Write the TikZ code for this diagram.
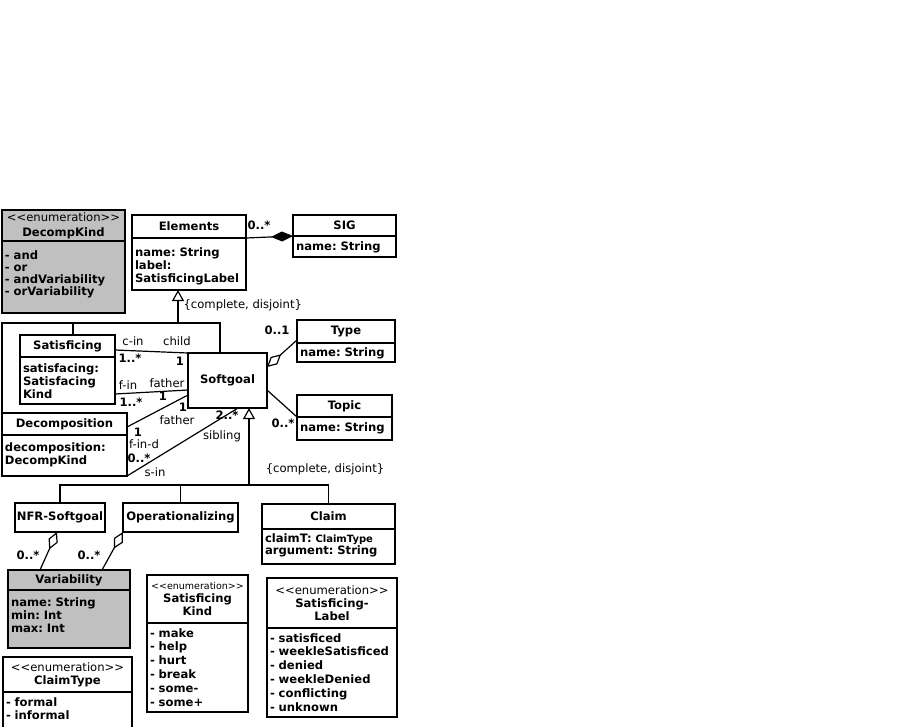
\documentclass[tikz,border=0pt]{standalone}
\usepackage{fontspec}
\setmainfont{DejaVu Sans}[Ligatures=TeXOff]
\usetikzlibrary{arrows.meta,positioning}
\definecolor{umlgray}{RGB}{192,192,192}

\begin{document}
\begin{tikzpicture}[
  x=1pt, y=-1pt,
  line width=1.2pt,
  font=\fontsize{11.6}{13}\selectfont\frenchspacing,
  classhead/.style={
    draw,
    anchor=north west,
    inner sep=0pt,
    outer sep=0pt,
    align=center,
    font=\fontsize{11.6}{13}\selectfont\frenchspacing\bfseries
    },
  classbody/.style={
    draw,
    below=0pt of #1,
    inner sep=3pt,
    outer sep=0pt,
    align=left,
    text height=11pt,
    font=\fontsize{11.6}{13}\selectfont\frenchspacing\bfseries
    },
  role/.style={inner sep=0pt, text height=8pt, text depth=0pt},
  mult/.style={role, font=\fontsize{11.6}{13}\selectfont\bfseries},
  gen/.style={-{Triangle[open, length=11pt, width=12pt]}},
  comp/.style={-{Diamond[length=22pt, width=10pt]}},
  agg/.style={{Diamond[open, length=19pt, width=10pt]}-}
]
\useasboundingbox (0,0) rectangle (901,726);
\clip (0,0) rectangle (901,726);

\node[classhead, fill=umlgray, minimum width=123pt, minimum height=31pt] (dk) at (2,210)
  {{\mdseries <<enumeration>>}\\[2pt]DecompKind};
\node[classbody=dk, fill=umlgray, text width=117pt, text height=15pt, text depth=51pt,
  font=\fontsize{11.6}{12}\selectfont\bfseries] (dkb)
  {- and\\- or\\- andVariability\\- orVariability};

\node[classhead, minimum width=114pt, minimum height=23pt] (elem) at (132,215) {Elements};
\node[classbody=elem, text width=108pt, text height=15pt, text depth=31pt] (elemb)
  {name: String\\label:\\SatisficingLabel};

\node[classhead, minimum width=103pt, minimum height=21pt] (sig) at (293,215) {SIG};
\node[classbody=sig, text width=97pt, text depth=4pt] (sigb) {name: String};

\node[classhead, minimum width=95pt, minimum height=22pt] (sat) at (20,335) {Satisficing};
\node[classbody=sat, text width=89pt, text height=12pt, text depth=29pt] (satb)
  {satisfacing:\\Satisfacing\\Kind};

\node[classhead, minimum width=79pt, minimum height=55pt] (sg) at (188,353) {Softgoal};

\node[classhead, minimum width=125pt, minimum height=22pt] (dec) at (2,413) {Decomposition};
\node[classbody=dec, text width=119pt, text height=13pt, text depth=22pt] (decb)
  {decomposition:\\DecompKind};

\node[classhead, minimum width=98pt, minimum height=23pt] (type) at (297,320) {Type};
\node[classbody=type, text width=92pt, text height=10pt, text depth=3pt] (typeb) {name: String};

\node[classhead, minimum width=95pt, minimum height=22pt] (topic) at (297,395) {Topic};
\node[classbody=topic, text width=89pt, text depth=6pt] (topicb) {name: String};

\node[classhead, minimum width=90pt, minimum height=29pt] (nfr) at (15,503) {NFR-Softgoal};
\node[classhead, minimum width=115pt, minimum height=29pt] (op) at (123,503) {Operationalizing};

\node[classhead, minimum width=133pt, minimum height=25pt] (claim) at (262,504) {Claim};
\node[classbody=claim, text width=127pt, text height=10pt, text depth=19pt,
  font=\fontsize{11.6}{12}\selectfont\frenchspacing\bfseries] (claimb)
  {claimT: {\fontsize{10}{12}\selectfont ClaimType}\\argument: String};

\node[classhead, fill=umlgray, minimum width=122pt, minimum height=20pt] (var) at (8,570) {Variability};
\node[classbody=var, fill=umlgray, text width=116pt, text height=13pt, text depth=39pt] (varb)
  {name: String\\min: Int\\max: Int};

\node[classhead, minimum width=129pt, minimum height=35pt] (ct) at (3,657)
  {{\mdseries <<enumeration>>}\\ClaimType};
\node[classbody=ct, text width=123pt, text depth=33pt] (ctb) {- formal\\- informal};

\node[classhead, minimum width=101pt, minimum height=48pt] (sk) at (147,575)
  {{\mdseries\fontsize{9.5}{11}\selectfont <<enumeration>>}\\Satisficing\\Kind};
\node[classbody=sk, text width=95pt, text depth=72pt,
  font=\fontsize{11.6}{13.8}\selectfont\bfseries] (skb)
  {- make\\- help\\- hurt\\- break\\- some-\\- some+};

\node[classhead, minimum width=130pt, minimum height=50pt] (sl) at (267,578)
  {{\mdseries <<enumeration>>}\\Satisficing-\\Label};
\node[classbody=sl, text width=124pt, text depth=72pt,
  font=\fontsize{11.6}{13.8}\selectfont\bfseries] (slb)
  {- satisficed\\- weekleSatisficed\\- denied\\- weekleDenied\\- conflicting\\- unknown};

\draw[comp] (elem.south east) -- (sig.south west);

\coordinate (gen1) at (178,323);
\coordinate (satup) at ([xshift=53pt]sat.north west);
\coordinate (sgup) at ([xshift=32pt]sg.north west);
\draw[gen] (gen1) -- (gen1 |- elemb.south);
\draw (dec.north west) |- (gen1) -| (sgup);
\draw (satup) -- (satup |- gen1);

\coordinate (gen2) at (249,485);
\draw[gen] (gen2) -- (gen2 |- sg.south);
\draw (nfr.north) |- (gen2) -| (claim.north);
\draw (op.north) -- (op.north |- gen2);

\draw ([yshift=7pt]sat.south east) -- (sg.north west);
\draw ([yshift=10pt]satb.south east) -- ([yshift=18pt]sg.south west);
\draw ([yshift=-14pt]dec.north east) -- ([yshift=13pt]sg.south west);
\draw (decb.south east) -- ([xshift=-29pt]sg.south east);
\draw[agg] ([yshift=-14pt]sg.north east) -- ([yshift=3pt]type.south west);
\draw ([yshift=18pt]sg.south east) -- (topic.south west);
\draw[agg] ([xshift=-3pt]nfr.south) -- ([xshift=32pt]var.north west);
\draw[agg] (op.south west) -- ([xshift=-28pt]var.north east);

\foreach \mx/\my/\mt [count=\mi] in {259/225/0..*, 130/358/1..*, 180/361/1, 131/402/1..*,
  163/396/1, 183/407/1, 227/415/2..*, 138/432/1, 139/458/0..*, 277/330/0..1,
  283/423/0..*, 28/555/0..*, 89/555/0..*}
  \node[mult] (m\mi) at (\mx,\my) {\mt};

\foreach \rx/\ry/\rt [count=\ri] in {133/341/c-in, 177/341/child, 128/385/f-in,
  167/383/father, 177/420/father, 144/444/f-in-d, 222/435/sibling, 155/472/s-in}
  \node[role] (r\ri) at (\rx,\ry) {\rt};

\node[role, anchor=west] (cd1) at (183,304) {\{complete, disjoint\}};
\node[role] (cd2) at (325,468) {\{complete, disjoint\}};

\end{tikzpicture}
\end{document}
